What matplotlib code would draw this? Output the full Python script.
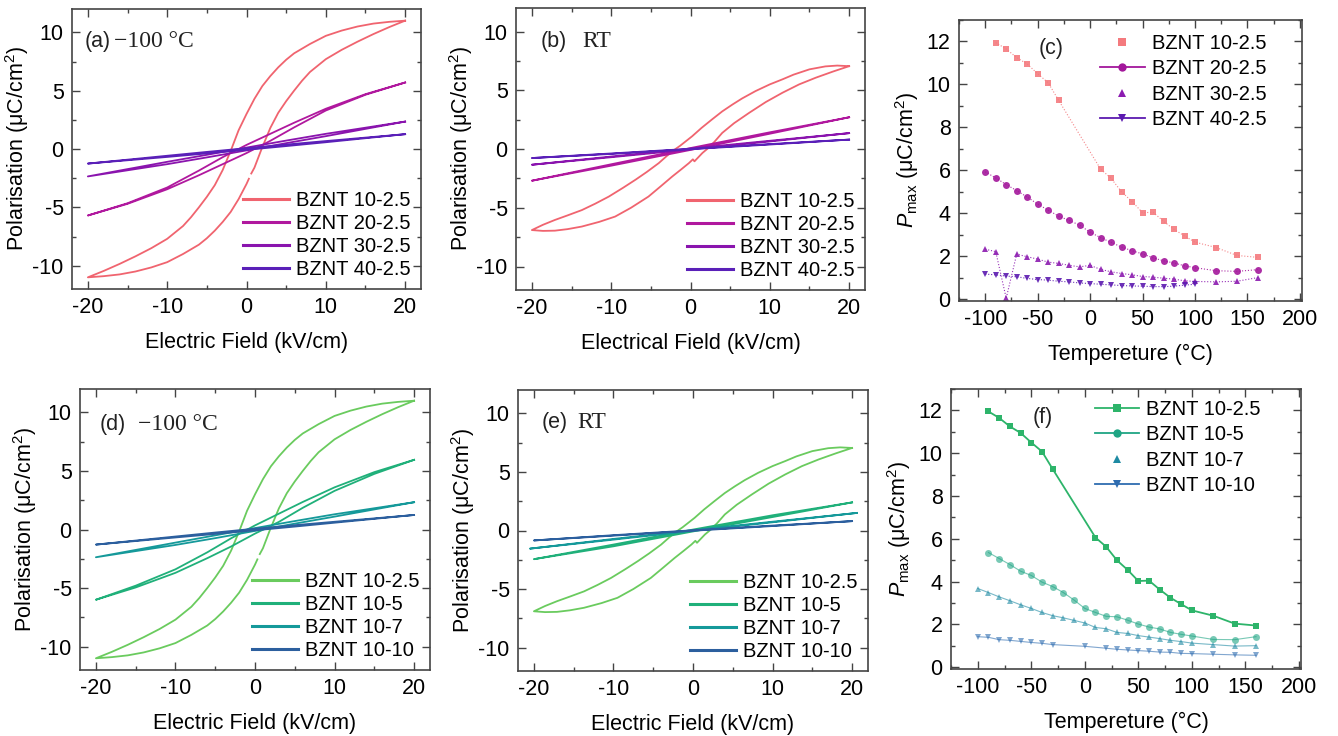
import numpy as np
import matplotlib
matplotlib.use("Agg")
from matplotlib import pyplot as plt
from matplotlib.ticker import MultipleLocator
from matplotlib.lines import Line2D

plt.rcParams['font.family'] = ['Liberation Sans', 'DejaVu Sans']
plt.rcParams['mathtext.fontset'] = 'custom'
plt.rcParams['mathtext.rm'] = 'Liberation Sans'
plt.rcParams['mathtext.it'] = 'Liberation Sans:italic'
plt.rcParams['axes.unicode_minus'] = False

# ---------------- P-E loops (E in kV/cm, P in uC/cm2), descending then ascending branch
# BZNT 10-2.5 at -100 C (panels a and d)
E_10_25_cold = [20, 18, 16, 14, 12, 10, 8, 7, 6, 5, 4, 3, 2, 1, 0, -1, -1.9, -3, -4, -5, -6, -7, -8, -10, -12,
                -14, -16, -18, -20,
                -18, -16, -14, -12, -10, -8, -7, -6, -5, -4, -3, -2, -1, 0, 0.3, np.nan, 0.6, 1, 1.9, 3, 4, 5,
                6, 7, 8, 10, 12, 14, 16, 18, 20]
P_10_25_cold = [11.0, 10.9, 10.75, 10.5, 10.15, 9.7, 9.0, 8.6, 8.2, 7.65, 7.0, 6.25, 5.4, 4.3, 3.0, 1.6, 0.0,
                -1.8, -3.1, -4.1, -5.0, -5.85, -6.6, -7.7, -8.5, -9.2, -9.85, -10.45, -11.0,
                -10.9, -10.75, -10.5, -10.15, -9.7, -9.0, -8.6, -8.2, -7.65, -7.0, -6.25, -5.4, -4.3, -3.0,
                -2.55, np.nan, -2.1, -1.6, 0.0, 1.8, 3.1, 4.1, 5.0, 5.85, 6.6, 7.7, 8.5, 9.2, 9.85, 10.45, 11.0]
# BZNT 10-2.5 at RT (panels b and e)
E_10_25_rt = [20, 18.5, 17, 15, 13, 11.6, 10, 8.2, 6.5, 5.3, 4, 2.7, 1.4, 0.2, -1.3, -2.1, -3, -4, -5.5, -6.9,
              -8.5, -10.3, -12, -13.7, -15.5, -17.1, -18.6, -20,
              -18.6, -17.1, -15.5, -13.7, -11.5, -9.5, -7.5, -5.3, -3.8, -2.3, -1.2, -0.2, 0.3, 0.5, 1.5, 2.1,
              3, 4, 5.5, 7.4, 9.5, 11.6, 13.7, 15.8, 18, 20]
P_10_25_rt = [7.05, 7.1, 7.03, 6.78, 6.33, 5.93, 5.5, 4.93, 4.3, 3.79, 3.2, 2.51, 1.8, 1.08, 0.28, -0.1, -0.6,
              -1.2, -1.95, -2.6, -3.3, -4.05, -4.65, -5.2, -5.65, -6.04, -6.45, -6.9,
              -6.97, -6.95, -6.82, -6.6, -6.2, -5.75, -5.0, -4.05, -3.2, -2.34, -1.75, -1.2, -0.88, -1.05,
              -0.34, 0.0, 0.6, 1.37, 2.2, 3.08, 4.0, 4.79, 5.5, 6.07, 6.6, 7.05]

# panel (a) other compositions
E_20_25_cold = [20, 15, 10, 6, 3, 0, -3, -6, -10, -15, -20, -15, -10, -6, -3, 0, 3, 6, 10, 15, 20]
P_20_25_cold = [5.7, 4.7, 3.45, 2.25, 1.3, 0.35, -0.7, -1.85, -3.3, -4.65, -5.7,
                -4.7, -3.45, -2.25, -1.3, -0.35, 0.7, 1.85, 3.3, 4.65, 5.7]
E_30_25_cold = [20, 10, 5, 0, -5, -10, -20, -10, -5, 0, 5, 10, 20]
P_30_25_cold = [2.35, 1.3, 0.72, 0.12, -0.5, -1.1, -2.35, -1.3, -0.72, -0.12, 0.5, 1.1, 2.35]
E_40_25_cold = [20, 10, 5, 0, -5, -10, -20, -10, -5, 0, 5, 10, 20]
P_40_25_cold = [1.27, 0.68, 0.38, 0.07, -0.25, -0.58, -1.25, -0.68, -0.38, -0.07, 0.25, 0.58, 1.27]

# panel (b) other compositions
E_20_25_rt = [20, 10, 0, -10, -20, -10, 0, 10, 20]
P_20_25_rt = [2.7, 1.42, 0.08, -1.3, -2.7, -1.42, -0.08, 1.3, 2.7]
E_30_25_rt = [20, 10, 0, -10, -20, -10, 0, 10, 20]
P_30_25_rt = [1.35, 0.7, 0.04, -0.64, -1.34, -0.7, -0.04, 0.64, 1.35]
E_40_25_rt = [20, 10, 0, -10, -20, -10, 0, 10, 20]
P_40_25_rt = [0.8, 0.42, 0.02, -0.38, -0.77, -0.42, -0.02, 0.38, 0.8]

# panel (d) other compositions
E_10_5_cold = [20, 15, 10, 6, 3, 0, -3, -6, -10, -15, -20, -15, -10, -6, -3, 0, 3, 6, 10, 15, 20]
P_10_5_cold = [5.95, 4.9, 3.6, 2.35, 1.35, 0.35, -0.75, -1.95, -3.4, -4.8, -6.0,
               -4.95, -3.7, -2.45, -1.45, -0.35, 0.65, 1.85, 3.3, 4.75, 5.95]
E_10_7_cold = [20, 10, 5, 0, -5, -10, -20, -10, -5, 0, 5, 10, 20]
P_10_7_cold = [2.33, 1.3, 0.72, 0.12, -0.5, -1.12, -2.37, -1.32, -0.74, -0.12, 0.5, 1.1, 2.33]
E_10_10_cold = [20, 10, 5, 0, -5, -10, -20, -10, -5, 0, 5, 10, 20]
P_10_10_cold = [1.24, 0.66, 0.37, 0.07, -0.26, -0.6, -1.29, -0.68, -0.38, -0.07, 0.25, 0.58, 1.24]

# panel (e) other compositions
E_10_5_rt = [20, 10, 0, -10, -20, -10, 0, 10, 20]
P_10_5_rt = [2.4, 1.3, 0.08, -1.2, -2.45, -1.35, -0.08, 1.15, 2.4]
E_10_7_rt = [20.6, 10, 0, -10, -20.5, -10, 0, 10, 20.6]
P_10_7_rt = [1.5, 0.75, 0.03, -0.72, -1.55, -0.78, -0.03, 0.7, 1.5]
E_10_10_rt = [20, 10, 0, -10, -20, -10, 0, 10, 20]
P_10_10_rt = [0.8, 0.42, 0.02, -0.4, -0.85, -0.44, -0.02, 0.38, 0.8]

# ---------------- Pmax vs temperature
T_10_25 = [-90, -80, -70, -60, -50, -40, -30, 10, 20, 30, 40, 50, 60, 70, 80, 90, 100, 120, 140, 160]
Pmax_10_25 = [11.95, 11.65, 11.25, 10.95, 10.5, 10.08, 9.26, 6.06, 5.63, 5.0, 4.55, 4.03, 4.05, 3.63, 3.25,
              2.95, 2.66, 2.41, 2.04, 1.95]

T_20_25 = [-100, -90, -80, -70, -60, -50, -40, -30, -20, -10, 0, 10, 20, 30, 40, 50, 60, 70, 80, 90, 100,
           120, 140, 160]
Pmax_20_25 = [5.93, 5.65, 5.34, 5.06, 4.76, 4.43, 4.15, 3.87, 3.67, 3.45, 3.12, 2.87, 2.65, 2.43, 2.26, 2.11,
              1.93, 1.79, 1.69, 1.56, 1.47, 1.33, 1.3, 1.38]
T_30_25 = [-100, -90, -80, -70, -60, -50, -40, -30, -20, -10, 0, 10, 20, 30, 40, 50, 60, 70, 80, 90, 100,
           120, 140, 160]
Pmax_30_25 = [2.33, 2.22, 0.05, 2.1, 1.98, 1.87, 1.73, 1.67, 1.58, 1.51, 1.58, 1.39, 1.28, 1.2, 1.14, 1.06,
              1.03, 0.98, 0.94, 0.86, 0.83, 0.81, 0.84, 1.01]
T_40_25 = [-100, -90, -80, -70, -60, -50, -40, -30, -20, -10, 0, 10, 20, 30, 40, 50, 60, 70, 80, 90, 100]
Pmax_40_25 = [1.17, 1.14, 1.08, 1.05, 0.97, 0.92, 0.89, 0.84, 0.81, 0.76, 0.73, 0.7, 0.67, 0.64, 0.62, 0.61,
              0.59, 0.59, 0.61, 0.66, 0.7]

T_10_5 = [-90, -80, -70, -60, -50, -40, -30, -20, -10, 0, 10, 20, 30, 40, 50, 60, 70, 80, 90, 100, 120, 140, 160]
Pmax_10_5 = [5.36, 5.08, 4.8, 4.49, 4.29, 3.98, 3.77, 3.49, 3.14, 2.75, 2.56, 2.38, 2.36, 2.2, 2.02, 1.88,
             1.79, 1.63, 1.54, 1.46, 1.3, 1.29, 1.43]
T_10_7 = [-100, -90, -80, -70, -60, -50, -40, -30, -20, -10, 0, 10, 20, 30, 40, 50, 60, 70, 80, 90, 100,
          120, 140, 160]
Pmax_10_7 = [3.68, 3.49, 3.29, 3.11, 2.92, 2.75, 2.56, 2.41, 2.31, 2.19, 2.07, 1.86, 1.8, 1.63, 1.58, 1.48,
             1.41, 1.34, 1.26, 1.2, 1.13, 1.06, 0.99, 1.01]
T_10_10 = [-100, -90, -80, -70, -60, -50, -40, -30, 0, 20, 30, 40, 50, 60, 70, 80, 90, 100, 120, 140, 160]
Pmax_10_10 = [1.43, 1.4, 1.29, 1.26, 1.21, 1.16, 1.12, 1.06, 0.98, 0.89, 0.84, 0.81, 0.78, 0.75, 0.71, 0.7,
              0.65, 0.64, 0.61, 0.58, 0.56]

labels_top = ['BZNT 10-2.5', 'BZNT 20-2.5', 'BZNT 30-2.5', 'BZNT 40-2.5']
labels_bot = ['BZNT 10-2.5', 'BZNT 10-5', 'BZNT 10-7', 'BZNT 10-10']
col_top = ['#f0646f', '#b0189e', '#8a14ae', '#5a20b8']
col_c = ['#f47a7e', '#a3179b', '#8c1cb0', '#5c1ab0']
col_bot = ['#6acb5e', '#20b07a', '#15999a', '#2c5f9e']
col_f = ['#2db46a', '#1fa584', '#1e8aa3', '#2e6cb0']

W, H = 1338, 736
fig = plt.figure(figsize=(W / 100, H / 100), dpi=100)


def box(l, t, r, b):
    return fig.add_axes([l / W, 1 - b / H, (r - l) / W, (b - t) / H])


def style(ax, xmaj, ymaj):
    ax.xaxis.set_major_locator(MultipleLocator(xmaj))
    ax.xaxis.set_minor_locator(MultipleLocator(xmaj / 2))
    ax.yaxis.set_major_locator(MultipleLocator(ymaj))
    ax.yaxis.set_minor_locator(MultipleLocator(ymaj / 2))
    ax.tick_params(which='both', direction='in', top=True, right=True, width=1.0, color='#444444',
                   labelsize=15.5, pad=6)
    ax.tick_params(which='major', length=6)
    ax.tick_params(which='minor', length=3)
    for s in ax.spines.values():
        s.set_color('#444444')
        s.set_linewidth(1.2)


def loop_panel(ax, loops, cols, labels, tag, cond, xlabel, tagx, condx, tagy):
    for (e, p), c, lab in zip(loops, cols, labels):
        ax.plot(e, p, color=c, lw=1.3, label=lab)
    ax.set_xlim(-22, 22)
    ax.set_ylim(-12, 12)
    style(ax, 10, 5)
    ax.set_xlabel(xlabel, fontsize=15.5, labelpad=10)
    ax.set_ylabel('Polarisation (μC/cm$^2$)', fontsize=15.5, labelpad=1)
    leg = ax.legend(loc='lower right', frameon=False, fontsize=14.5, handlelength=2.3,
                    handletextpad=0.35, labelspacing=0.2, borderaxespad=0.3, borderpad=0.2)
    for h in leg.get_lines():
        h.set_linewidth(2.2)
    ax.text(tagx, tagy, tag, transform=ax.transAxes, fontsize=15.5, va='center', color='#222222')
    ax.text(condx, tagy, cond, transform=ax.transAxes, fontsize=17, va='center',
            family=['Liberation Serif', 'DejaVu Serif'], color='#222222')


ax_a = box(72, 9, 421, 289)
loop_panel(ax_a, [(E_10_25_cold, P_10_25_cold), (E_20_25_cold, P_20_25_cold),
                  (E_30_25_cold, P_30_25_cold), (E_40_25_cold, P_40_25_cold)],
           col_top, labels_top, '(a)', '\u2212100 \u00b0C', 'Electric Field (kV/cm)', 0.037, 0.12, 0.883)

ax_b = box(516, 8, 865, 290)
loop_panel(ax_b, [(E_10_25_rt, P_10_25_rt), (E_20_25_rt, P_20_25_rt),
                  (E_30_25_rt, P_30_25_rt), (E_40_25_rt, P_40_25_rt)],
           col_top, labels_top, '(b)', 'RT', 'Electrical Field (kV/cm)', 0.07, 0.189, 0.881)

ax_d = box(80, 389, 430, 670)
loop_panel(ax_d, [(E_10_25_cold, P_10_25_cold), (E_10_5_cold, P_10_5_cold),
                  (E_10_7_cold, P_10_7_cold), (E_10_10_cold, P_10_10_cold)],
           col_bot, labels_bot, '(d)', '\u2212100 \u00b0C', 'Electric Field (kV/cm)', 0.057, 0.167, 0.873)

ax_e = box(518, 390, 868, 671)
loop_panel(ax_e, [(E_10_25_rt, P_10_25_rt), (E_10_5_rt, P_10_5_rt),
                  (E_10_7_rt, P_10_7_rt), (E_10_10_rt, P_10_10_rt)],
           col_bot, labels_bot, '(e)', 'RT', 'Electric Field (kV/cm)', 0.067, 0.171, 0.884)


def pmax_panel(ax, series, cols, markers, show_line, line_kw, labels, tag, anchor):
    handles = []
    for (t, p), c, m, sl, kw, lab in zip(series, cols, markers, show_line, line_kw, labels):
        ax.plot(t, p, color=c, marker=m, markersize=5, markeredgewidth=0, **kw)
        handles.append(Line2D([], [], color=c, marker=m, markersize=6, markeredgewidth=0,
                              lw=1.3 if sl else 0))
    ax.set_xlim(-125, 202)
    ax.set_ylim(-0.08, 13)
    style(ax, 50, 2)
    ax.set_xlabel('Tempereture (\u00b0C)', fontsize=15.5, labelpad=10)
    ax.set_ylabel('$P_{\\rm max}$ (μC/cm$^2$)', fontsize=15.5, labelpad=4)
    ax.legend(handles, labels, loc='upper left', bbox_to_anchor=anchor, frameon=False, fontsize=14.5,
              handlelength=2.2, handletextpad=0.35, labelspacing=0.32, borderaxespad=0, borderpad=0.2)
    ax.text(0.233, 0.9, tag, transform=ax.transAxes, fontsize=15.5, va='center', color='#222222')


ax_c = box(959, 20, 1302, 301)
thin = dict(lw=0.8, ls=':', alpha=0.9)
pmax_panel(ax_c, [(T_10_25, Pmax_10_25), (T_20_25, Pmax_20_25), (T_30_25, Pmax_30_25), (T_40_25, Pmax_40_25)],
           col_c, ['s', 'o', '^', 'v'], [False, True, False, True], [thin, thin, thin, thin], labels_top, '(c)',
           (0.4, 0.965))

ax_f = box(951, 389, 1301, 669)
pmax_panel(ax_f, [(T_10_25, Pmax_10_25), (T_10_5, Pmax_10_5), (T_10_7, Pmax_10_7), (T_10_10, Pmax_10_10)],
           col_f, ['s', 'o', '^', 'v'], [True, True, False, True],
           [dict(lw=1.3), dict(lw=0.8, alpha=0.6), dict(lw=0.8, alpha=0.6), dict(lw=0.8, alpha=0.6)],
           labels_bot, '(f)', (0.4, 0.975))

fig.savefig('out.png', dpi=100)
